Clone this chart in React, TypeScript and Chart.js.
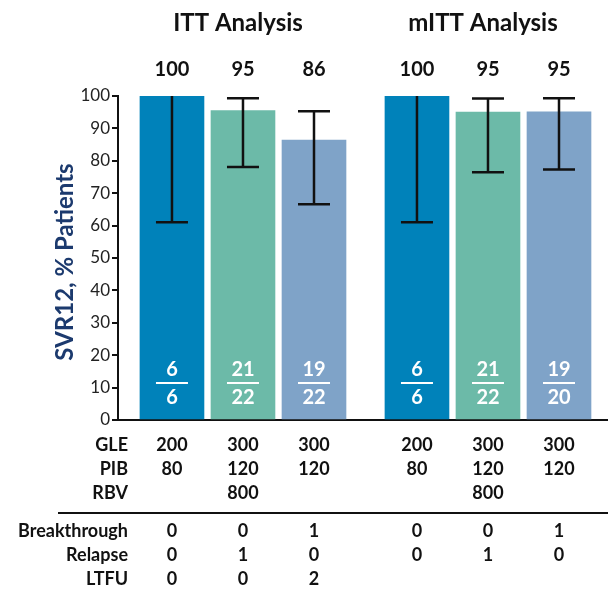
import React, { useEffect, useRef } from "react";
import { Chart, registerables } from "chart.js";
Chart.register(...registerables);

const groupTitles = ["ITT Analysis", "mITT Analysis"];
const groupCenterBars = [1, 4];
const positions = [1, 2, 3, 4.45, 5.45, 6.45];
const svr = [100, 95.5, 86.4, 100, 95, 95.1];
const valueLabels = ["100", "95", "86", "100", "95", "95"];
const ciLow = [61, 78.1, 66.6, 61, 76.5, 77.3];
const ciHigh = [100, 99.3, 95.3, 100, 99.2, 99.3];
const numerators = ["6", "21", "19", "6", "21", "19"];
const denominators = ["6", "22", "22", "6", "22", "20"];
const doseRowLabels = ["GLE", "PIB", "RBV"];
const gle = ["200", "300", "300", "200", "300", "300"];
const pib = ["80", "120", "120", "80", "120", "120"];
const rbv = ["", "800", "", "", "800", ""];
const outcomeRowLabels = ["Breakthrough", "Relapse", "LTFU"];
const breakthrough = ["0", "0", "1", "0", "0", "1"];
const relapse = ["0", "1", "0", "0", "1", "0"];
const ltfu = ["0", "0", "2", "", "", ""];
const yTickStep = 10;
const yMin = 0;
const yMax = 100;
const yTitle = "SVR12, % Patients";

const barColors = ["#0082ba", "#6cbaa8", "#7fa3c8", "#0082ba", "#6cbaa8", "#7fa3c8"];
const FONT = "Lato, 'Open Sans', sans-serif";

const overlay = {
  id: "overlay",
  afterDatasetsDraw(chart: any) {
    const { ctx } = chart;
    const x = chart.scales.x;
    const y = chart.scales.y;
    ctx.save();
    // error bars
    ctx.strokeStyle = "#111";
    ctx.lineWidth = 2.5;
    positions.forEach((p, i) => {
      const cx = x.getPixelForValue(p);
      const yl = y.getPixelForValue(ciLow[i]);
      const yh = y.getPixelForValue(ciHigh[i]);
      ctx.beginPath();
      ctx.moveTo(cx, yh);
      ctx.lineTo(cx, yl);
      ctx.stroke();
      ctx.beginPath();
      ctx.moveTo(cx - 16, yl);
      ctx.lineTo(cx + 16, yl);
      if (ciHigh[i] < yMax) {
        ctx.moveTo(cx - 16, yh);
        ctx.lineTo(cx + 16, yh);
      }
      ctx.stroke();
    });
    // fractions
    ctx.fillStyle = "#fff";
    ctx.strokeStyle = "#fff";
    ctx.lineWidth = 2;
    ctx.font = `bold 20px ${FONT}`;
    ctx.textAlign = "center";
    ctx.textBaseline = "middle";
    positions.forEach((p, i) => {
      const cx = x.getPixelForValue(p);
      ctx.fillText(numerators[i], cx, 370);
      ctx.beginPath();
      ctx.moveTo(cx - 16, 383);
      ctx.lineTo(cx + 16, 383);
      ctx.stroke();
      ctx.fillText(denominators[i], cx, 398);
    });
    ctx.restore();
  },
  afterDraw(chart: any) {
    const { ctx } = chart;
    const x = chart.scales.x;
    ctx.save();
    ctx.fillStyle = "#111";
    ctx.textBaseline = "middle";
    ctx.textAlign = "center";
    // titles
    ctx.font = `bold 24px ${FONT}`;
    groupTitles.forEach((t, g) => {
      const cx = x.getPixelForValue(positions[groupCenterBars[g]]);
      ctx.fillText(t, cx - 5, 23);
    });
    // values
    ctx.font = `bold 20px ${FONT}`;
    positions.forEach((p, i) => {
      ctx.fillText(valueLabels[i], x.getPixelForValue(p), 70);
    });
    // table
    ctx.font = `bold 18px ${FONT}`;
    const doseRows = [gle, pib, rbv];
    const doseY = [445, 469, 493];
    doseRows.forEach((row, r) => {
      ctx.textAlign = "right";
      ctx.fillText(doseRowLabels[r], 128, doseY[r]);
      ctx.textAlign = "center";
      row.forEach((v, i) => ctx.fillText(v, x.getPixelForValue(positions[i]), doseY[r]));
    });
    const outRows = [breakthrough, relapse, ltfu];
    const outY = [531, 555, 579];
    outRows.forEach((row, r) => {
      ctx.textAlign = "right";
      ctx.fillText(outcomeRowLabels[r], 128, outY[r]);
      ctx.textAlign = "center";
      row.forEach((v, i) => ctx.fillText(v, x.getPixelForValue(positions[i]), outY[r]));
    });
    ctx.strokeStyle = "#111";
    ctx.lineWidth = 2;
    ctx.beginPath();
    ctx.moveTo(58, 513);
    ctx.lineTo(608, 513);
    ctx.stroke();
    // y title
    ctx.save();
    ctx.translate(65, 262);
    ctx.rotate(-Math.PI / 2);
    ctx.textAlign = "center";
    ctx.fillStyle = "#1c3a6e";
    ctx.font = `bold 24px ${FONT}`;
    ctx.fillText(yTitle, 0, 0);
    ctx.restore();
    ctx.restore();
  },
};

export default function App() {
  const ref = useRef<HTMLCanvasElement>(null);
  useEffect(() => {
    if (!ref.current) return;
    const chart = new Chart(ref.current, {
      type: "bar",
      data: {
        datasets: [
          {
            data: positions.map((p, i) => ({ x: p, y: svr[i] })),
            backgroundColor: barColors,
            borderWidth: 0,
            barThickness: 64,
          },
        ],
      },
      options: {
        animation: false,
        responsive: false,
        devicePixelRatio: 1,
        layout: { padding: { top: 96, right: 0, bottom: 170, left: 0 } },
        plugins: { legend: { display: false }, tooltip: { enabled: false } },
        scales: {
          x: {
            type: "linear",
            min: 0.24,
            max: 7.14,
            offset: false,
            ticks: { display: false },
            grid: { display: false, drawTicks: false },
            border: { display: true, color: "#111", width: 2 },
            afterFit: (s: any) => {
              s.height = 0;
            },
          },
          y: {
            min: yMin,
            max: yMax,
            ticks: {
              stepSize: yTickStep,
              color: "#222",
              font: { family: FONT, size: 17 },
              padding: 2,
            },
            grid: { drawOnChartArea: false, tickLength: 6, color: "#111", lineWidth: 2 },
            border: { display: true, color: "#111", width: 2 },
            afterFit: (s: any) => {
              s.width = 118;
            },
          },
        },
      },
      plugins: [overlay],
    });
    return () => chart.destroy();
  }, []);
  return (
    <canvas
      ref={ref}
      width={608}
      height={590}
      style={{ position: "absolute", left: 0, top: 0, width: 608, height: 590 }}
    />
  );
}
